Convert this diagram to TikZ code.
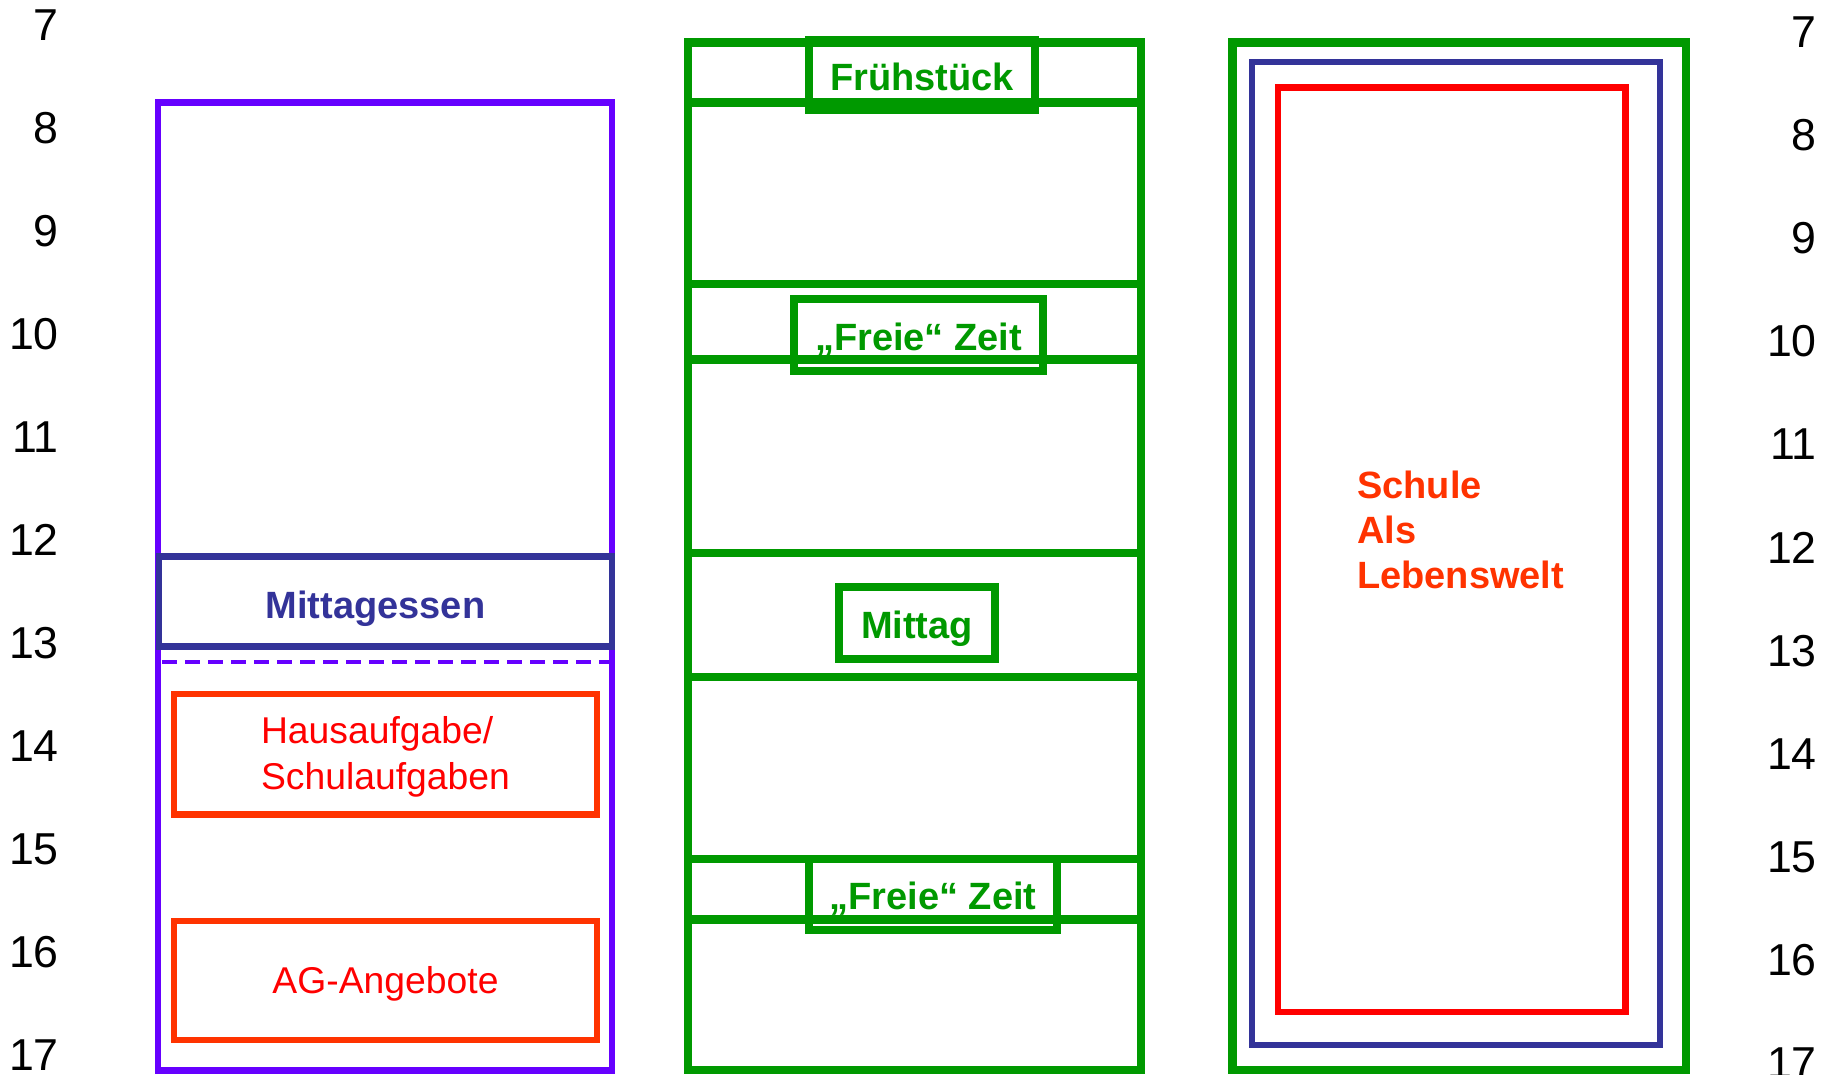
\documentclass[tikz,border=0pt]{standalone}
\usepackage{fontspec}
\setmainfont{Liberation Sans}
\usepackage{xcolor}
\definecolor{lila}{HTML}{6600FF}
\definecolor{navy}{HTML}{333399}
\definecolor{gruen}{HTML}{009900}
\definecolor{rot}{HTML}{FF0000}
\definecolor{orangerot}{HTML}{FF3300}

\begin{document}
\begin{tikzpicture}[x=1pt, y=-1pt,
    every node/.style = {inner sep=0pt},
    hour/.style = {font=\fontsize{44.7}{50}\selectfont, anchor=east, text depth=0pt},
    fett/.style = {text height=30.5pt, text depth=0pt, font=\fontsize{38}{45}\selectfont\bfseries},
    gbox/.style = {fett, draw=gruen, line width=8pt, text=gruen},
    rbox/.style = {draw=orangerot, line width=6.5pt, minimum width=423},
    rtext/.style = {text=rot, align=left, font=\fontsize{37.3}{46}\selectfont}]
      \fill[white] (0,0) rectangle (1829,1075);
      \useasboundingbox (0,0) rectangle (1829,1075);

      \foreach \h [count=\i from 0] in {7,...,17} {
         \node[hour] (links\h) at (59, 25+103*\i) {\h};
         \node[hour] (rechts\h) at (1817, 32+103.1*\i) {\h};
      }

      \draw[lila, line width=6.5pt] (158,102.5) rectangle (612,1070.5);
      \draw[lila, line width=4.5pt, dash pattern=on 15pt off 8pt] (162,662) -- (609,662);
      \node[draw=navy, line width=6.5pt, minimum width=453, minimum height=90] (essen) at (385.5,601.5) {};
      \node[fett, text=navy, text height=33pt] (essentext) at ([xshift=-10pt]essen.center) {Mittagessen};
      \node[rbox, minimum height=120.5] (hausaufgabe) at (385.5,754) {};
      \node[rtext] (hausaufgabetext) at ([yshift=-3pt]hausaufgabe.center) {Hausaufgabe/\\Schulaufgaben};
      \node[rbox, minimum height=119] (ag) at (385.5,980.5) {};
      \node[rtext] (agtext) at ([yshift=-3pt]ag.center) {AG-Angebote};

      \draw[gruen, line width=8.5pt] (688,42.5) rectangle (1141,1070);
      \foreach \y in {102.5,284,359.5,553,677,859,919.5}
         \draw[gruen, line width=8.5pt] (688,\y) -- (1141,\y);
      \node[gbox, minimum width=226, minimum height=70] (fruehstueck) at (922,75) {Frühstück};
      \node[gbox, minimum width=249, minimum height=72] (freizeit1) at (918.5,335) {„Freie“ Zeit};
      \node[gbox, minimum width=156, minimum height=72] (mittag) at (917,623) {Mittag};
      \node[gbox, minimum width=248.5, minimum height=71] (freizeit2) at (933,894.5) {„Freie“ Zeit};

      \draw[gruen, line width=8.5pt] (1232.5,42.5) rectangle (1686,1070);
      \draw[navy, line width=6.5pt] (1252,62) rectangle (1660,1045);
      \draw[rot, line width=6.5pt] (1278,87.5) rectangle (1625.5,1012);
      \node[anchor=north west, align=left, text=orangerot, font=\fontsize{38}{45}\selectfont\bfseries]
         (schule) at (1357,471) {Schule\\Als\\Lebenswelt};
\end{tikzpicture}
\end{document}
